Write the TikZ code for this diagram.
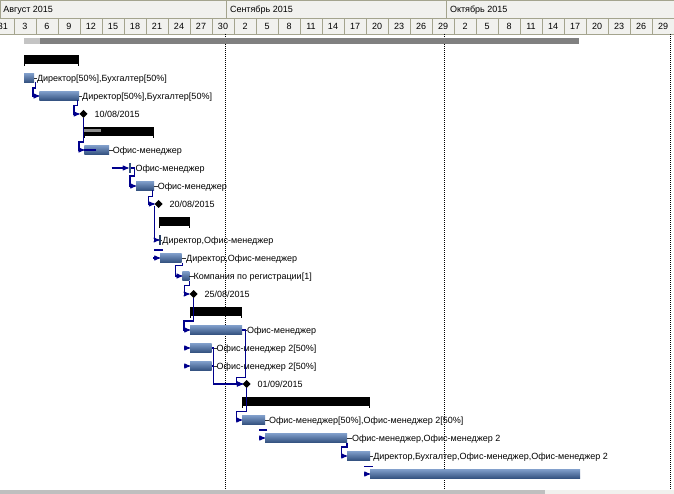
\documentclass[tikz,border=0pt]{standalone}
\usepackage{fontspec}
\setmainfont{Liberation Sans}
\usepackage{tikz}
\usetikzlibrary{arrows,calc,positioning,shapes.geometric}

\definecolor{hdrfill}{RGB}{241,241,238}
\definecolor{hdrline}{RGB}{164,164,142}
\definecolor{barhi}{RGB}{126,156,200}
\definecolor{barlo}{RGB}{50,80,126}
\definecolor{linkblue}{RGB}{0,0,140}
\definecolor{sumgray}{RGB}{128,128,128}
\definecolor{sumlight}{RGB}{196,196,196}
\definecolor{progray}{RGB}{140,140,140}

\begin{document}
\begin{tikzpicture}[x=1pt,y=-1pt,>=stealth',
  every node/.style={inner sep=0pt,outer sep=0pt,font=\fontsize{9}{11}\selectfont},
  hdr/.style={draw=hdrline,fill=hdrfill,line width=0.8pt},
  gridline/.style={line width=1pt,dash pattern=on 1pt off 1pt},
  task/.style={rectangle,anchor=west,minimum height=9,top color=barhi,bottom color=barlo},
  tick/.style={rectangle,minimum width=2,minimum height=10,fill=barlo},
  summ/.style={rectangle,anchor=west,minimum height=9,fill=black},
  ms/.style={diamond,fill=black,minimum size=8},
  lab/.style={text=black,text height=6.4pt,text depth=0pt},
  labtie/.style={draw=black!80,line width=0.8pt},
  link/.style={draw=linkblue,line width=1.1pt,->},
  stub/.style={draw=linkblue,line width=1.1pt}]
 \useasboundingbox (0,0) rectangle (674,494);
 \fill[white] (0,0) rectangle (674,494);
 % time scale
 \draw[hdr] (0,0) rectangle (226.7,18);
 \draw[hdr] (226.7,0) rectangle (446,18);
 \draw[hdr] (446,0) rectangle (674,18);
 \node[anchor=base west] (mAug) at (3.3,12.8) {Август 2015};
 \node[anchor=base west] (mSep) at (230,12.8) {Сентябрь 2015};
 \node[anchor=base west] (mOct) at (450,12.8) {Октябрь 2015};
 \foreach \d [count=\i from 0] in {31,3,6,9,12,15,18,21,24,27,30,2,5,8,11,14,17,20,23,26,29,2,5,8,11,14,17,20,23,26,29}{
   \draw[hdr] ({-8+22*\i},18) rectangle ++(22,16);
   \node[anchor=base] (d\i) at ({3+22*\i},29.3) {\d};
 }
 \draw[gridline] (225.3,34) -- (225.3,490);
 \draw[gridline] (444.7,34) -- (444.7,490);
 \draw[gridline] (670.7,34) -- (670.7,490);
 % bottom strip
 \fill[hdrfill] (0,489.5) rectangle (674,494);
 \fill[black!25] (0,489.5) rectangle (545,494);

 % summaries
 \node[summ,fill=sumgray,minimum height=6.5,minimum width=555] (s1) at (24,41) {};
 \fill[sumlight] (s1.north west) rectangle ++(16,6.5);
 \node[summ,minimum width=54.7] (s2) at (24,59.5) {};
 \node[summ,minimum width=70] (s6) at (84,131.5) {};
 \fill[progray] (s6.north west) ++(0.3,2) rectangle ++(16.7,3.4);
 \node[summ,minimum width=31] (s11) at (159,221.5) {};
 \node[summ,minimum width=51.7] (s16) at (190,311.5) {};
 \node[summ,minimum width=127.7] (s21) at (242,401.5) {};
 \foreach \s in {s2,s6,s11,s16,s21}{
   \draw[line width=1pt] (\s.south west) ++(0.5,0) -- ++(0,2);
   \draw[line width=1pt] (\s.south east) ++(-0.5,0) -- ++(0,2);
 }

 % tasks
 \node[task,minimum width=10] (t3) at (24,78) {};
 \node[task,minimum width=39.7] (t4) at (39.3,96) {};
 \node[task,minimum width=24.7] (t7) at (84.3,150) {};
 \draw[linkblue,line width=2pt] (t7.west) -- ++(11.7,0);
 \node[tick] (t8) at (129.5,168) {};
 \node[task,minimum width=18] (t9) at (136,186) {};
 \node[tick,minimum width=1.5,fill=barlo!80!black] (t12) at (160.2,240) {};
 \node[task,minimum width=21.7] (t13) at (160,258) {};
 \node[task,minimum width=7] (t14) at (182.3,276) {};
 \node[task,minimum width=52] (t17) at (190,330) {};
 \node[task,minimum width=21.7] (t18) at (190,348) {};
 \node[task,minimum width=21.7] (t19) at (190,366) {};
 \node[task,minimum width=23] (t22) at (242,420) {};
 \node[task,minimum width=82] (t23) at (265,438) {};
 \node[task,minimum width=23] (t24) at (347,456) {};
 \node[task,minimum width=210] (t25) at (370,474) {};

 % milestones
 \node[ms] (m5) at (83.5,114) {};
 \node[ms] (m10) at (158.7,204) {};
 \node[ms] (m15) at (193.5,294) {};
 \node[ms] (m20) at (246.7,384) {};

 % labels
 \node[lab,right=3pt of t3] (l3) {Директор[50\%],Бухгалтер[50\%]};
 \node[lab,right=3.2pt of t4] (l4) {Директор[50\%],Бухгалтер[50\%]};
 \node[lab,right=7pt of m5] (ml5) {10/08/2015};
 \node[lab,right=3.8pt of t7] (l7) {Офис-менеджер};
 \node[lab,right=5pt of t8] (l8) {Офис-менеджер};
 \node[lab,right=3.8pt of t9] (l9) {Офис-менеджер};
 \node[lab,right=7pt of m10] (ml10) {20/08/2015};
 \node[lab,right=1.5pt of t12] (l12) {Директор,Офис-менеджер};
 \node[lab,right=4.5pt of t13] (l13) {Директор,Офис-менеджер};
 \node[lab,right=4.2pt of t14] (l14) {Компания по регистрации[1]};
 \node[lab,right=7pt of m15] (ml15) {25/08/2015};
 \node[lab,right=5pt of t17] (l17) {Офис-менеджер};
 \node[lab,right=5pt of t18] (l18) {Офис-менеджер 2[50\%]};
 \node[lab,right=5pt of t19] (l19) {Офис-менеджер 2[50\%]};
 \node[lab,right=7pt of m20] (ml20) {01/09/2015};
 \node[lab,right=4pt of t22] (l22) {Офис-менеджер[50\%],Офис-менеджер 2[50\%]};
 \node[lab,right=5pt of t23] (l23) {Офис-менеджер,Офис-менеджер 2};
 \node[lab,right=3.3pt of t24] (l24) {Директор,Бухгалтер,Офис-менеджер,Офис-менеджер 2};
 \foreach \t in {3,4,7,9,12,13,14,17,18,19,22,23,24}
   \draw[labtie] (t\t.east) -- (l\t.west);

 % links
 \draw[link] (t3.south east) ++(1.3,0) |- ++(-2.3,5.5) |- (t4.west);
 \draw[link] (t4.south east) ++(-1.5,0) |- ++(-3.5,5) |- (m5.west);
 \draw[link] (m5.south) |- ++(-4.5,24) |- (t7.west);
 \draw[link] (t8.west) ++(-17,0) -- (t8.west);
 \draw[link] (t8.east) -- ++(4,0) |- ++(-4.5,8) |- (t9.west);
 \draw[link] (t9.south east) ++(-1.3,0) |- ++(-4.4,6) |- (m10.west);
 \draw[link] (m10.south) ++(-4,-2) |- (t12.west);
 \draw[stub] (t12.south) ++(2.5,5) -- ++(-9,0);
 \draw[link] (t13.west) ++(-7,0) -- (t13.west);
 \draw[link] (t13.south east) ++(1,0) |- ++(-7,3) |- (t14.west);
 \draw[link] (t14.south east) |- ++(-5,5) |- (m15.west);
 \draw[link] (m15.south) |- ++(-9.5,23) |- (t17.west);
 \draw[link] (t18.west) ++(-6,0) -- (t18.west);
 \draw[link] (t19.west) ++(-6,0) -- (t19.west);
 \draw[link] (t17.east) -- ++(3.5,0) |- ++(-9,47.5) |- (m20.west);
 \draw[link] (t18.east) -- ++(2,0) |- (m20.west);
 \draw[link] (t19.east) -- ++(2,0) |- (m20.west);
 \draw[link] (m20.south) |- ++(-10.5,23.5) |- (t22.west);
 \draw[stub] (t22.south east) ++(2.3,5.5) -- ++(-8,0);
 \draw[link] (t23.west) ++(-6,0) -- (t23.west);
 \draw[link] (t23.south east) |- ++(-5.5,4.5) |- (t24.west);
 \draw[stub] (t24.south east) ++(2.7,6) -- ++(-8.7,0);
 \draw[link] (t25.west) ++(-6,0) -- (t25.west);
\end{tikzpicture}
\end{document}
